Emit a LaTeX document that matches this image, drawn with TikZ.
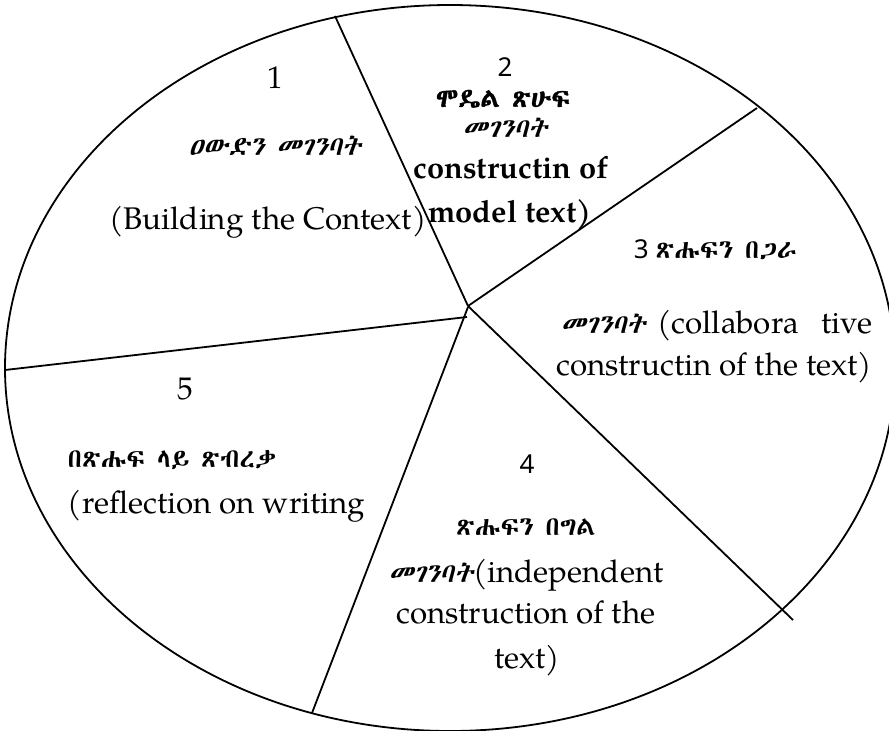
\documentclass[tikz,border=0pt]{standalone}
\usepackage{fontspec}
\IfFontExistsTF{texgyrepagella-regular.otf}{%
  \setmainfont{texgyrepagella}[Extension=.otf,UprightFont=*-regular,BoldFont=*-bold,ItalicFont=*-italic,BoldItalicFont=*-bolditalic]}{%
  \setmainfont{Liberation Serif}}
\IfFontExistsTF{Abyssinica SIL}{\def\ethname{Abyssinica SIL}}{%
 \IfFontExistsTF{Noto Sans Ethiopic}{\def\ethname{Noto Sans Ethiopic}}{%
  \IfFontExistsTF{Noto Serif Ethiopic}{\def\ethname{Noto Serif Ethiopic}}{%
   \IfFontExistsTF{FreeSerif}{\def\ethname{FreeSerif}}{\def\ethname{DejaVu Sans}}}}}
\newfontfamily\eth{\ethname}
\newfontfamily\ethsl{\ethname}[FakeSlant=0.22]
\newfontfamily\ethbf{\ethname}[FakeBold=1.5]
\newfontfamily\digsans{Noto Sans}
\newcommand\ethsz{\fontsize{26.5}{26.5}\selectfont}
\newcommand\engsz{\fontsize{31.3}{32}\selectfont}
\begin{document}
\begin{tikzpicture}[x=1pt,y=-1pt,line width=1.8pt,
  txt/.style={inner sep=0pt,anchor=base,font=\engsz},
  txtw/.style={txt,anchor=base west},
  txte/.style={txt,anchor=base east},
  bld/.style={txt,font=\fontsize{30.8}{32}\selectfont\bfseries},
  eth/.style={inner sep=0pt,anchor=base,font=\ethsz\eth},
  ethw/.style={eth,anchor=base west},
  ethsl/.style={inner sep=0pt,anchor=base,font=\ethsz\ethsl},
  ethb/.style={inner sep=0pt,anchor=base,font=\ethsz\ethbf},
  dig/.style={inner sep=0pt,anchor=base,font=\fontsize{26}{26}\selectfont\digsans}]
\useasboundingbox (0,0) rectangle (889,731);
\fill[white] (0,0) rectangle (889,731);
\draw (450,368) ellipse [x radius=445, y radius=363];
% spokes
\coordinate (O) at (468,306);
\coordinate (O4) at (468,307);
\coordinate (O5) at (467,317);
\coordinate (E1) at (335,16);
\coordinate (E2) at (757,108);
\coordinate (E3) at (793,620);
\coordinate (E4) at (312,713);
\coordinate (E5) at (5,370);
\draw (O) -- (E1);
\draw (O) -- (E2);
\draw (O) -- (E3);
\draw (O4) -- (E4);
\draw (O5) -- (E5);
% segment 1
\node[txt] (n1) at (275,88) {1};
\node[ethsl] (a1) at (275,155) {ዐውድን መገንባት};
\node[txt] (b1) at (268,229) {(Building the Context)};
% segment 2
\node[dig] (n2) at (505,76) {2};
\node[ethb] (a2) at (503,107) {ሞዴል ጽሁፍ};
\node[ethsl] (c2) at (505,137) {መገንባት};
\node[bld] (b2) at (511,178) {constructin of};
\node[bld] (d2) at (510,222) {model text)};
% segment 3
\node[inner sep=0pt,anchor=base west] (n3) at (633,258) {\fontsize{26}{26}\selectfont\digsans 3 \ethsz\eth ጽሑፍን በጋራ};
\node[inner sep=0pt,anchor=base west] (a3) at (560,333) {\ethsz\ethsl መገንባት \engsz\rmfamily (collabora};
\node[txte] (c3) at (873,333) {tive};
\node[txte] (b3) at (873,375) {constructin of the text)};
% segment 4
\node[dig] (n4) at (527,473) {4};
\node[eth] (a4) at (526,535) {ጽሑፍን በግል};
\node[inner sep=0pt,anchor=base] (b4) at (526,582) {\ethsz\ethsl መገንባት\engsz\rmfamily(independent};
\node[txt] (c4) at (526,623) {construction of the};
\node[txt] (d4) at (527,668) {text)};
% segment 5
\node[txt] (n5) at (185,399) {5};
\node[ethw] (a5) at (67,467) {በጽሑፍ ላይ ጽብረቃ};
\node[txtw] (b5) at (67,513) {(reflection on writing};
\end{tikzpicture}
\end{document}
